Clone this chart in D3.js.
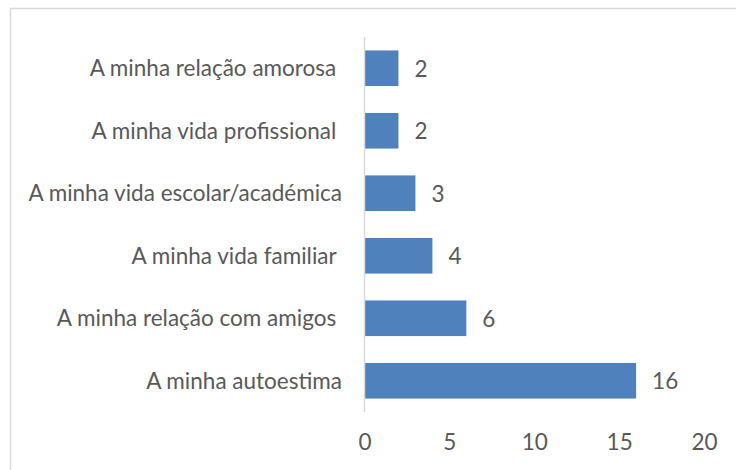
<!DOCTYPE html>
<html>
<head>
<meta charset="utf-8">
<script src="https://cdn.jsdelivr.net/npm/d3@7"></script>
<style>
  body { margin: 0; background: #fff; }
  text { font-family: Lato, "Open Sans", sans-serif; fill: #595959; }
</style>
</head>
<body>
<svg id="chart" width="736" height="470"></svg>
<script>
// Categorias (de cima para baixo)
const categorias = [
  "A minha relação amorosa ",
  "A minha vida profissional ",
  "A minha vida escolar/académica",
  "A minha vida familiar ",
  "A minha relação com amigos ",
  "A minha autoestima"
];
const valores = [2, 2, 3, 4, 6, 16];
const ticksX = [0, 5, 10, 15, 20];

const data = categorias.map((c, i) => ({ cat: c, val: valores[i] }));

const svg = d3.select("#chart");
const fs = "22.5px";

// Moldura do gráfico
svg.append("rect")
   .attr("x", 10.5).attr("y", 8.5)
   .attr("width", 760).attr("height", 500)
   .attr("fill", "none")
   .attr("stroke", "#d9d9d9")
   .attr("stroke-width", 1.5);

const plot = {left: 364.5, right: 704, top: 37, bottom: 412};

const x = d3.scaleLinear()
            .domain([0, 20])
            .range([plot.left, plot.right]);

const y = d3.scaleBand()
            .domain(categorias)
            .range([plot.top, plot.bottom])
            .paddingInner(0.43)
            .paddingOuter(0.215);

// Eixo X (só rótulos)
const gx = svg.append("g")
   .attr("transform", `translate(0,${plot.bottom})`)
   .call(d3.axisBottom(x).tickValues(ticksX).tickSize(0).tickPadding(22.5));
gx.select(".domain").remove();
gx.selectAll("text")
  .style("font-size", fs)
  .style("font-family", "Lato, 'Open Sans', sans-serif")
  .attr("fill", "#595959");

// Barras
svg.selectAll("rect.bar")
   .data(data)
   .enter().append("rect")
     .attr("class", "bar")
     .attr("x", x(0))
     .attr("y", d => y(d.cat))
     .attr("width", d => x(d.val) - x(0))
     .attr("height", y.bandwidth())
     .attr("fill", "#4f81bd");

// Eixo Y (linha vertical)
svg.append("line")
   .attr("x1", x(0)).attr("x2", x(0))
   .attr("y1", plot.top).attr("y2", plot.bottom)
   .attr("stroke", "#d9d9d9")
   .attr("stroke-width", 1.5);

// Rótulos das categorias
svg.selectAll("text.cat")
   .data(data)
   .enter().append("text")
     .attr("class", "cat")
     .attr("x", 342)
     .attr("y", d => y(d.cat) + y.bandwidth() / 2)
     .attr("dy", "0.35em")
     .attr("text-anchor", "end")
     .style("white-space", "pre")
     .style("font-size", fs)
     .text(d => d.cat);

// Rótulos de valor
svg.selectAll("text.value")
   .data(data)
   .enter().append("text")
     .attr("class", "value")
     .attr("x", d => x(d.val) + 16)
     .attr("y", d => y(d.cat) + y.bandwidth() / 2)
     .attr("dy", "0.38em")
     .style("font-size", fs)
     .text(d => d.val);
</script>
</body>
</html>
